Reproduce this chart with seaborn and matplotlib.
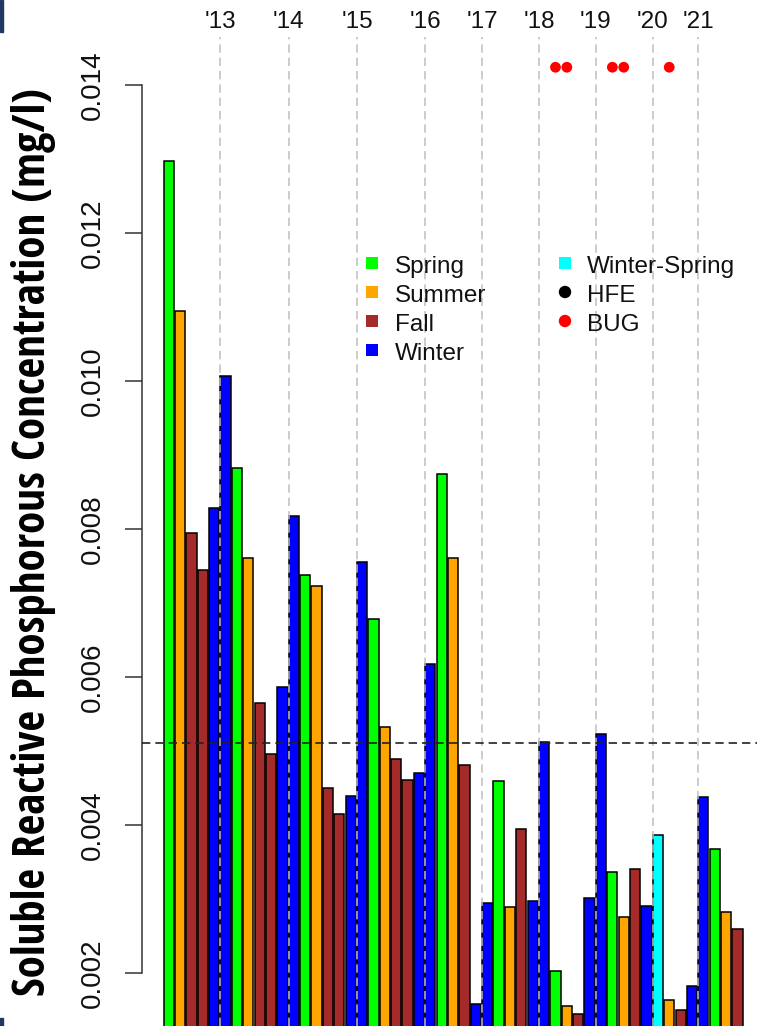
import numpy as np
import pandas as pd
import matplotlib
matplotlib.use("Agg")
import matplotlib.pyplot as plt
import seaborn as sns
from matplotlib import font_manager as fm
from matplotlib.patches import Rectangle

# ---------------- data ----------------
seasons = ["Spring", "Summer", "Fall", "Fall", "Winter",
           "Winter", "Spring", "Summer", "Fall", "Fall", "Winter",
           "Winter", "Spring", "Summer", "Fall", "Fall", "Winter",
           "Winter", "Spring", "Summer", "Fall", "Fall", "Winter",
           "Winter", "Spring", "Summer", "Fall", "Winter",
           "Winter", "Spring", "Summer", "Fall", "Winter",
           "Winter", "Spring", "Summer", "Fall", "Winter",
           "Winter", "Spring", "Summer", "Fall", "Winter",
           "Winter-Spring", "Summer", "Fall", "Winter",
           "Winter", "Spring", "Summer", "Fall"]
srp = [0.01297, 0.01094, 0.00795, 0.00744, 0.00829,
       0.01007, 0.00882, 0.00761, 0.00565, 0.00496, 0.00587,
       0.00817, 0.00738, 0.00723, 0.00450, 0.00415, 0.00439,
       0.00756, 0.00679, 0.00532, 0.00489, 0.00461, 0.00470,
       0.00618, 0.00874, 0.00761, 0.00481, 0.00158,
       0.00295, 0.00459, 0.00289, 0.00394, 0.00297,
       0.00512, 0.00203, 0.00156, 0.00144, 0.00301,
       0.00523, 0.00336, 0.00276, 0.00340, 0.00291,
       0.00386, 0.00164, 0.00150, 0.00183,
       0.00438, 0.00367, 0.00282, 0.00259]
year_labels = ["'13", "'14", "'15", "'16", "'17", "'18", "'19", "'20", "'21"]
year_first_bar = [5, 11, 17, 23, 28, 33, 38, 43, 47]
bug_bars = [34, 35, 39, 40, 44]
bug_level = 0.01424
threshold = 0.00511
y_ticks = [0.002, 0.004, 0.006, 0.008, 0.010, 0.012, 0.014]

season_colors = {"Spring": "#00FF00", "Summer": "#FFA500", "Fall": "#A52A2A",
                 "Winter": "#0000FF", "Winter-Spring": "#00FFFF"}
legend_col1 = ["Spring", "Summer", "Fall", "Winter"]
legend_col2 = [("Winter-Spring", "#00FFFF", "s"), ("HFE", "#000000", "o"),
               ("BUG", "#FF0000", "o")]

df = pd.DataFrame({"bar": np.arange(len(srp)), "season": seasons, "srp": srp})

# ---------------- style ----------------
sns.set_theme(style="white")
plt.rcParams["font.family"] = ["Liberation Sans", "DejaVu Sans"]
plt.rcParams["lines.scale_dashes"] = False

W, H = 757, 1026
fig = plt.figure(figsize=(W / 100, H / 100), dpi=100)
fig.patch.set_facecolor("white")

ax_left_px, ax_top_px = 142, 37
ax = fig.add_axes([ax_left_px / W, 0, (W - ax_left_px) / W, (H - ax_top_px) / H])
ax.set_facecolor("white")

BAR_W = 0.9
sns.barplot(data=df, x="bar", y="srp", hue="season", palette=season_colors,
            dodge=False, legend=False, width=BAR_W, edgecolor="black",
            linewidth=1.1, saturation=1, ax=ax, zorder=2)

# scales: pixel mapping from the reference
px_per_bar = 11.376
x0_px = 168.7
ax.set_xlim((ax_left_px - x0_px) / px_per_bar, (W - x0_px) / px_per_bar)
px_per_unit = 74000.0
ax.set_ylim(0.014 - (H - 85) / px_per_unit, 0.014 + (85 - ax_top_px) / px_per_unit)

# year separators
year_pos = [b - BAR_W / 2 for b in year_first_bar]
for xp in year_pos:
    ax.axvline(xp, color="#BEBEBE", lw=1.1, dashes=(6, 3.6), zorder=3)
ax.axhline(threshold, color="#222222", lw=1.2, dashes=(6, 3.6), zorder=4)

# BUG points
ax.scatter(bug_bars, [bug_level] * len(bug_bars), s=60, color="#FF0000",
           edgecolor="none", zorder=5)

# axes / ticks
for s in ["top", "right", "bottom"]:
    ax.spines[s].set_visible(False)
ax.spines["left"].set_bounds(0.002, 0.014)
ax.spines["left"].set_color("#333333")
ax.spines["left"].set_linewidth(1.1)
ax.set_yticks(y_ticks)
ax.set_yticklabels([f"{v:.3f}" for v in y_ticks], rotation=90, va="center",
                   fontsize=20, color="#111111")
ax.tick_params(axis="y", left=True, length=12, width=1.1, color="#333333", pad=14)

ax.xaxis.tick_top()
ax.set_xticks(year_pos)
ax.set_xticklabels(year_labels, fontsize=17.5, color="#111111")
ax.tick_params(axis="x", top=True, bottom=False, length=0, pad=3)
ax.set_xlabel("")
ax.set_ylabel("")

# ---------------- overlay (legend, y title) in pixel coordinates ----------------
ov = fig.add_axes([0, 0, 1, 1], zorder=10)
ov.set_xlim(0, W)
ov.set_ylim(H, 0)
ov.axis("off")
ov.patch.set_alpha(0)

rows = [263, 292, 321, 350]
for lab, ry in zip(legend_col1, rows):
    ov.scatter([372], [ry], marker="s", s=85, color=season_colors[lab], edgecolor="none")
    ov.text(395, ry + 10, lab, fontsize=17.5, va="baseline", ha="left", color="#111111")
for (lab, col, mk), ry in zip(legend_col2, rows):
    ov.scatter([565], [ry], marker=mk, s=85 if mk == "s" else 80, color=col, edgecolor="none")
    ov.text(587, ry + 10, lab, fontsize=17.5, va="baseline", ha="left", color="#111111")

# y-axis title with condensed bold font if available
def pick_font(cands):
    for c in cands:
        try:
            fm.findfont(fm.FontProperties(family=c, weight="bold"), fallback_to_default=False)
            return c
        except Exception:
            pass
    return "DejaVu Sans"

title_font = pick_font(["Open Sans Condensed", "Liberation Sans Narrow",
                        "DejaVu Sans Condensed", "Roboto Condensed", "Open Sans"])
ylab = ov.text(34, 542, "Soluble Reactive Phosphorous Concentration (mg/l)",
               rotation=90, ha="center", va="center", fontsize=24,
               fontweight="bold", family=title_font, color="black")
renderer = fig.canvas.get_renderer()
ext = ylab.get_window_extent(renderer=renderer)
target = 909.0
ylab.set_fontsize(24 * target / ext.height)

# small slide artifacts on the left edge
ov.add_patch(Rectangle((0, 0), 3, 32, color="#1F3864"))
ov.add_patch(Rectangle((0, 1018), 3, 8, color="#1F3864"))

fig.savefig("out.png", dpi=100, facecolor="white")
